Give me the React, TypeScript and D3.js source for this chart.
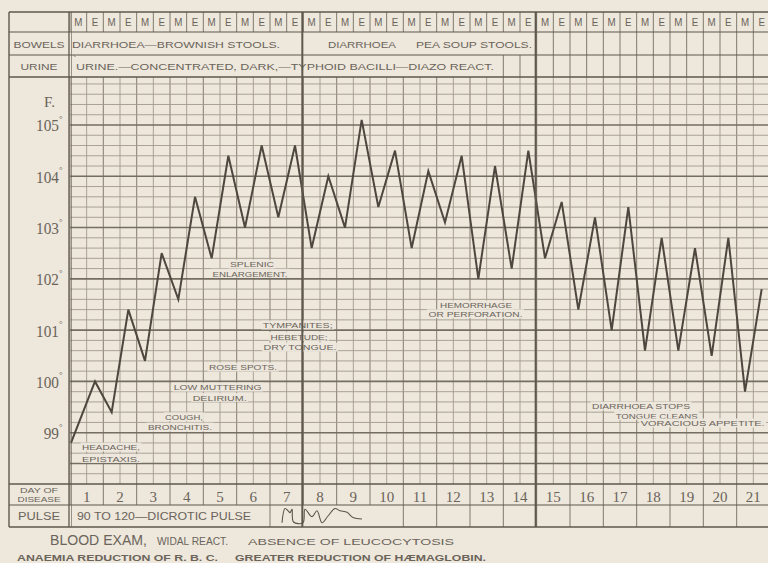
import React from 'react';
import * as d3 from 'd3';

// ---------- DATA ----------
const temps = [
  98.8, 100.0, 99.4, 101.4, 100.4, 102.5, 101.6, 103.6, 102.4, 104.4,
  103.0, 104.6, 103.2, 104.6, 102.6, 104.0, 103.0, 105.1, 103.4, 104.5,
  102.6, 104.1, 103.1, 104.4, 102.0, 104.2, 102.2, 104.5, 102.4, 103.5,
  101.4, 103.2, 101.0, 103.4, 100.6, 102.8, 100.6, 102.6, 100.5, 102.8,
  99.8, 101.8,
];
const dayLabels = ['1','2','3','4','5','6','7','8','9','10','11','12','13','14','15','16','17','18','19','20','21'];
const tempTicks = [99, 100, 101, 102, 103, 104, 105];
const halfDayLabels = ['M', 'E'];
const rowLabels = ['BOWELS', 'URINE'];
const bowelsNotes = [
  { text: 'DIARRHOEA—BROWNISH STOOLS.', day: 0.06, w: 208 },
  { text: 'DIARRHOEA', day: 7.74, w: 68 },
  { text: 'PEA SOUP STOOLS.', day: 10.38, w: 116 },
];
const bowelsSpan = 14;
const urineNotes = [
  { text: 'URINE.—CONCENTRATED, DARK,—TYPHOID BACILLI—DIAZO REACT.', day: 0.18, w: 418 },
];
const urineSpan = 13;
const chartNotes = [
  { lines: [['HEADACHE,', 1.23, 98.72, 58], ['EPISTAXIS.', 1.23, 98.5, 58]] },
  { lines: [['COUGH,', 3.42, 99.31, 38], ['BRONCHITIS.', 3.3, 99.11, 64]] },
  { lines: [['LOW MUTTERING', 4.43, 99.89, 88], ['DELIRIUM.', 4.49, 99.69, 54]] },
  { lines: [['ROSE SPOTS.', 5.19, 100.28, 68]] },
  { lines: [['SPLENIC', 5.46, 102.29, 44], ['ENLARGEMENT.', 5.4, 102.11, 75]] },
  { lines: [['TYMPANITES;', 6.83, 101.1, 70], ['HEBETUDE;', 6.87, 100.88, 57], ['DRY TONGUE.', 6.9, 100.67, 73]] },
  { lines: [['HEMORRHAGE', 12.18, 101.49, 72], ['OR PERFORATION.', 12.165, 101.32, 94]] },
  { lines: [['DIARRHOEA  STOPS', 17.13, 99.52, 98], ['TONGUE CLEANS', 17.6, 99.34, 82], ['VORACIOUS APPETITE.', 18.98, 99.19, 124]] },
];
const pulseText = '90 TO 120—DICROTIC PULSE';
const pulseTrace: [number, number][] = [
  [0, 0.05], [3, 1.0], [6, 0.85], [8, 0.72], [10, 0.95], [11.5, 0.1], [21, 0.05],
  [23, 0.95], [30, 0.45], [35, 0.85], [40, 0.05], [46, 0.5], [53, 1.0], [58, 0.85],
  [65, 0.75], [71, 0.4], [80, 0.3],
];
const footer1 = [
  { text: 'BLOOD EXAM,', size: 14.5, w: 97 },
  { text: 'WIDAL REACT.', size: 10, w: 71 },
  { text: 'ABSENCE OF LEUCOCYTOSIS', size: 9.5, w: 206 },
];
const footer2 = [
  { text: 'ANAEMIA  REDUCTION OF R. B. C.', w: 201 },
  { text: 'GREATER REDUCTION OF HÆMAGLOBIN.', w: 251 },
];

// ---------- LAYOUT ----------
const W = 768, H = 563;
const PAPER = '#ede7dc';
const INK = '#5d574d';
const TXT = '#6b645a';
const MINOR = '#a19a8c';
const MAJOR = '#746d61';
const SANS = '"Liberation Sans", Arial, sans-serif';
const SERIF = '"Liberation Serif", "Times New Roman", serif';

const LEFT = 9, COLR = 69;
const ROW_TOP = 12, ROW_ME = 32, ROW_BOW = 55, ROW_URI = 77;
const ROW_GRID_B = 484, ROW_DAY = 505, ROW_PULSE = 527;

const x = d3.scaleLinear().domain([0, 21]).range([70, 770]);
const y = d3.scaleLinear().domain([99, 105]).range([432.7, 125]);

const readingDay = temps.map((_, i) => (i === 0 ? 0.03 : 0.25 + 0.5 * i));
const tempLine = d3.line<number>()
  .x((_, i) => x(readingDay[i]))
  .y((d) => y(d));

const xp = d3.scaleLinear().domain([0, 80]).range([282, 362]);
const yp = d3.scaleLinear().domain([0, 1]).range([523.5, 508.5]);
const pulseLine = d3.line<[number, number]>()
  .x((d) => xp(d[0]))
  .y((d) => yp(d[1]))
  .curve(d3.curveCatmullRom.alpha(0.5));

const halfDays = d3.range(0, 43).map((i) => i * 0.5);
const hLines = d3.range(1, 40).map((i) => 98 + i * 0.2).filter((t) => y(t) > ROW_URI + 2);

export default function App() {
  return (
    <svg width={W} height={H} style={{ position: 'absolute', left: 0, top: 0, display: 'block' }}>
      <rect x={0} y={0} width={W} height={H} fill={PAPER} />

      {/* temperature grid */}
      <g>
        {halfDays.map((d) => (
          <line key={'v' + d} x1={x(d)} x2={x(d)} y1={ROW_URI} y2={ROW_GRID_B}
            stroke={Number.isInteger(d) ? '#8e8678' : MINOR} strokeWidth={Number.isInteger(d) ? 1.1 : 0.9} />
        ))}
        {hLines.map((t) => {
          const r = Math.round(t * 10) / 10;
          const major = Math.abs(r - Math.round(r)) < 0.01 || Math.abs(r - 98.4) < 0.01;
          return (
            <line key={'h' + r} x1={x(0)} x2={W} y1={y(r)} y2={y(r)}
              stroke={major ? MAJOR : MINOR} strokeWidth={major ? 1.6 : 0.9} />
          );
        })}
      </g>

      {/* header rows: M/E */}
      {halfDays.slice(0, 42).map((d, i) => (
        <g key={'me' + i}>
          <line x1={x(d)} x2={x(d)} y1={ROW_TOP} y2={ROW_ME} stroke={MAJOR} strokeWidth={0.9} />
          <text x={x(d + 0.25)} y={ROW_ME - 5.5} textAnchor="middle" fontFamily={SANS} fontSize={11.5}
            fill={TXT} transform={`translate(${x(d + 0.25)},0) scale(0.85,1) translate(${-x(d + 0.25)},0)`}>
            {halfDayLabels[i % 2]}
          </text>
        </g>
      ))}
      {/* bowels & urine row cells */}
      {halfDays.filter((d) => d >= bowelsSpan).map((d) => (
        <line key={'b' + d} x1={x(d)} x2={x(d)} y1={ROW_ME} y2={ROW_BOW} stroke={MAJOR} strokeWidth={0.9} />
      ))}
      {halfDays.filter((d) => d >= urineSpan).map((d) => (
        <line key={'u' + d} x1={x(d)} x2={x(d)} y1={ROW_BOW} y2={ROW_URI} stroke={MAJOR} strokeWidth={0.9} />
      ))}
      {bowelsNotes.map((n) => (
        <text key={n.text} x={x(n.day)} y={ROW_BOW - 7} fontFamily={SANS} fontSize={9.5} fill={TXT}
          textLength={n.w} lengthAdjust="spacingAndGlyphs">{n.text}</text>
      ))}
      {urineNotes.map((n) => (
        <text key={n.text} x={x(n.day)} y={ROW_URI - 7} fontFamily={SANS} fontSize={9.5} fill={TXT}
          textLength={n.w} lengthAdjust="spacingAndGlyphs">{n.text}</text>
      ))}
      <text x={x(0) + 3} y={ROW_BOW + 9} fontFamily={SANS} fontSize={10} fill={TXT}>`</text>

      {/* row labels */}
      {rowLabels.map((r, i) => (
        <text key={r} x={(LEFT + COLR) / 2} y={(i === 0 ? ROW_BOW : ROW_URI) - 7} textAnchor="middle"
          fontFamily={SANS} fontSize={9.5} fill={TXT} textLength={i === 0 ? 51 : 37} lengthAdjust="spacingAndGlyphs">{r}</text>
      ))}

      {/* y axis labels */}
      <text x={44} y={107} fontFamily={SERIF} fontSize={15} fill={TXT}>F.</text>
      {tempTicks.map((t) => (
        <g key={'yt' + t}>
          <text x={59} y={y(t) + 6.5} textAnchor="end" fontFamily={SERIF} fontSize={17} fill={TXT}
            transform={`translate(59,0) scale(0.9,1) translate(-59,0)`}>{t}</text>
          <text x={59} y={y(t) - 3} fontFamily={SERIF} fontSize={9} fill={TXT}>°</text>
        </g>
      ))}

      {/* chart annotations */}
      {chartNotes.map((n, i) => (
        <g key={'n' + i}>
          {n.lines.map(([text, d, t, w]) => (
            <g key={text as string}>
              <rect x={x(d as number) - (w as number) / 2 - 1.5} y={y(t as number) - 4.5} width={(w as number) + 3}
                height={9} fill={PAPER} opacity={0.92} />
              <text x={x(d as number)} y={y(t as number) + 3.3} textAnchor="middle" fontFamily={SANS}
                fontSize={8} fill={TXT} textLength={w as number} lengthAdjust="spacingAndGlyphs">{text}</text>
            </g>
          ))}
        </g>
      ))}

      {/* temperature curve */}
      <path d={tempLine(temps) || ''} fill="none" stroke="#4d473f" strokeWidth={2} strokeLinejoin="miter" />

      {/* day of disease row */}
      {d3.range(0, 22).map((d) => (
        <line key={'dd' + d} x1={x(d)} x2={x(d)} y1={ROW_GRID_B} y2={ROW_DAY} stroke={MAJOR} strokeWidth={0.9} />
      ))}
      {dayLabels.map((l, i) => (
        <text key={'dl' + l} x={x(i + 0.5)} y={ROW_DAY - 3} textAnchor="middle" fontFamily={SERIF} fontSize={15}
          fill={TXT}>{l}</text>
      ))}
      <text x={(LEFT + COLR) / 2} y={ROW_GRID_B + 9} textAnchor="middle" fontFamily={SANS} fontSize={7.5}
        fill={TXT} textLength={38} lengthAdjust="spacingAndGlyphs">DAY OF</text>
      <text x={(LEFT + COLR) / 2} y={ROW_GRID_B + 18} textAnchor="middle" fontFamily={SANS} fontSize={7.5}
        fill={TXT} textLength={43} lengthAdjust="spacingAndGlyphs">DISEASE</text>

      {/* pulse row */}
      <text x={(LEFT + COLR) / 2} y={ROW_PULSE - 7} textAnchor="middle" fontFamily={SANS} fontSize={10}
        fill={TXT} textLength={42} lengthAdjust="spacingAndGlyphs">PULSE</text>
      <text x={x(0) + 7} y={ROW_PULSE - 7} fontFamily={SANS} fontSize={10.5} fill={TXT}
        textLength={174} lengthAdjust="spacingAndGlyphs">{pulseText}</text>
      <line x1={x(6)} x2={x(6)} y1={ROW_DAY} y2={ROW_PULSE} stroke={MAJOR} strokeWidth={0.9} />
      {d3.range(10, 22).map((d) => (
        <line key={'pd' + d} x1={x(d)} x2={x(d)} y1={ROW_DAY} y2={ROW_PULSE} stroke={MAJOR} strokeWidth={0.9} />
      ))}
      <path d={pulseLine(pulseTrace) || ''} fill="none" stroke="#5a544b" strokeWidth={1.1} />

      {/* table borders */}
      <g stroke={INK} fill="none">
        <line x1={LEFT} x2={W} y1={ROW_TOP} y2={ROW_TOP} strokeWidth={1.4} />
        <line x1={LEFT} x2={W} y1={ROW_ME} y2={ROW_ME} strokeWidth={1.1} />
        <line x1={LEFT} x2={W} y1={ROW_BOW} y2={ROW_BOW} strokeWidth={1.1} />
        <line x1={LEFT} x2={W} y1={ROW_URI} y2={ROW_URI} strokeWidth={1.3} />
        <line x1={LEFT} x2={W} y1={ROW_GRID_B} y2={ROW_GRID_B} strokeWidth={1.5} />
        <line x1={LEFT} x2={W} y1={ROW_DAY} y2={ROW_DAY} strokeWidth={1.1} />
        <line x1={LEFT} x2={W} y1={ROW_PULSE} y2={ROW_PULSE} strokeWidth={1.4} />
        <line x1={LEFT} x2={LEFT} y1={ROW_TOP} y2={ROW_PULSE} strokeWidth={1.4} />
        <line x1={COLR} x2={COLR} y1={ROW_TOP} y2={ROW_PULSE} strokeWidth={1.3} />
        <line x1={COLR + 2.5} x2={COLR + 2.5} y1={ROW_TOP} y2={ROW_PULSE} strokeWidth={0.6} />
        {[7, 14].map((d) => (
          <line key={'wk' + d} x1={x(d) - 1} x2={x(d) - 1} y1={ROW_TOP} y2={ROW_PULSE} strokeWidth={2} />
        ))}
      </g>

      {/* footer */}
      {footer1.map((f, i) => {
        const starts = [50, 157, 248];
        return (
          <text key={f.text} x={starts[i]} y={545} fontFamily={SANS} fontSize={f.size} fill={TXT}
            textLength={f.w} lengthAdjust="spacingAndGlyphs">{f.text}</text>
        );
      })}
      {footer2.map((f, i) => {
        const starts = [17, 235];
        return (
          <text key={f.text} x={starts[i]} y={561} fontFamily={SANS} fontSize={8.5} fontWeight="bold" fill={TXT}
            textLength={f.w} lengthAdjust="spacingAndGlyphs">{f.text}</text>
        );
      })}
    </svg>
  );
}
